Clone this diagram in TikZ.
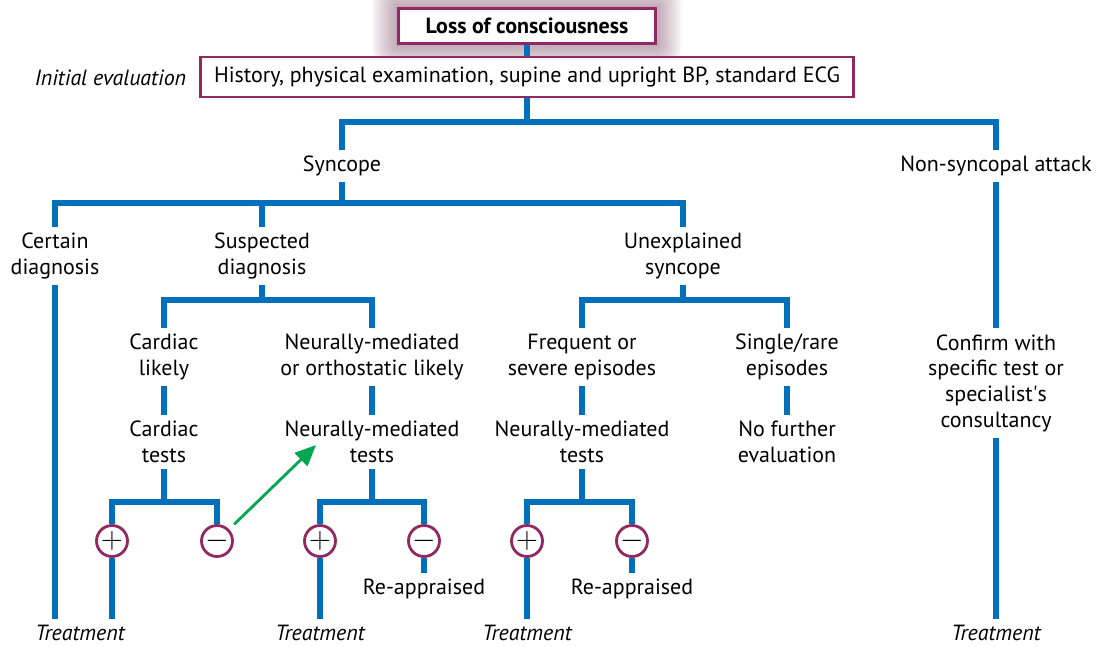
\documentclass[tikz,border=0pt]{standalone}
\usepackage{fontspec}
\setmainfont{PT Sans}
\usetikzlibrary{arrows.meta,backgrounds}

\definecolor{treeblue}{RGB}{0,112,186}
\definecolor{boxpurple}{RGB}{146,40,98}
\definecolor{arrowgreen}{RGB}{0,166,80}
\definecolor{glow}{RGB}{120,70,95}

\tikzset{
  txt/.style={align=center,inner xsep=2pt,inner ysep=0.12cm,
    font=\fontsize{12.5}{14.6}\selectfont},
  box/.style={draw=boxpurple,line width=1.6pt,fill=white,inner xsep=5pt,
    font=\fontsize{12.5}{14.6}\selectfont},
  branch/.style={draw=treeblue,line width=3.3pt},
  sign/.style={circle,draw=boxpurple,line width=1.6pt,fill=white,
    minimum size=0.62cm,inner sep=0pt,font=\fontsize{17}{18}\selectfont},
  result/.style={txt,font=\fontsize{12.5}{14.6}\itshape},
  hint/.style={draw=arrowgreen,line width=1.6pt,
    -{Triangle[length=0.42cm,width=0.36cm]}}
}

\begin{document}
\begin{tikzpicture}[x=0.02cm,y=-0.02cm]
	\useasboundingbox (0,0) rectangle (1098,646);

	\node[box,font=\fontsize{12.5}{14.6}\bfseries,minimum width=5.14cm,minimum height=0.7cm] (loc) at (527,26) {Loss of consciousness};
	\node[box,minimum width=13.06cm,minimum height=0.8cm] (init) at (527,77)
	  {History, physical examination, supine and upright BP, standard ECG};
	\node[result,anchor=east] (initlab) at (190,78) {Initial evaluation};

	% soft halo behind the title box
	\begin{pgfonlayer}{background}
	\foreach \g in {1,...,13}
	  \fill[glow,opacity=0.045,rounded corners=\g pt]
	    ([xshift=-\g*1.1pt,yshift=\g*1.1pt]loc.north west) rectangle
	    ([xshift=\g*1.1pt,yshift=-\g*1.1pt]loc.south east);
	\end{pgfonlayer}

	\node[txt] (syn) at (342,166) {Syncope};
	\node[txt] (nonsyn) at (996,166) {Non-syncopal attack};

	\node[txt] (cert) at (55,256) {Certain\\diagnosis};
	\node[txt] (susp) at (262,256) {Suspected\\diagnosis};
	\node[txt] (unexp) at (683,256) {Unexplained\\syncope};

	\node[txt] (cardL) at (164,357) {Cardiac\\likely};
	\node[txt] (neurL) at (372,357) {Neurally-mediated\\or orthostatic likely};
	\node[txt] (freq) at (582,357) {Frequent or\\severe episodes};
	\node[txt] (single) at (787,357) {Single/rare\\episodes};
	\node[txt] (confirm) at (996,383) {Confirm with\\specific test or\\specialist\textquotesingle s\\consultancy};

	\node[txt] (cardT) at (164,442) {Cardiac\\tests};
	\node[txt] (neurT) at (372,442) {Neurally-mediated\\tests};
	\node[txt] (neurT2) at (582,442) {Neurally-mediated\\tests};
	\node[txt] (nofurther) at (787,442) {No further\\evaluation};

	\node[sign] (p1) at (112,541) {$+$};
	\node[sign] (m1) at (217,541) {$-$};
	\node[sign] (p2) at (320,541) {$+$};
	\node[sign] (m2) at (424,541) {$-$};
	\node[sign] (p3) at (527,541) {$+$};
	\node[sign] (m3) at (632,541) {$-$};

	\node[txt] (reap1) at (424,589) {Re-appraised};
	\node[txt] (reap2) at (632,589) {Re-appraised};

	\node[result] (treat1) at (80,633) {Treatment};
	\node[result] (treat2) at (320,633) {Treatment};
	\node[result] (treat3) at (527,633) {Treatment};
	\node[result] (treat4) at (996,633) {Treatment};

	% junctions of the tree
	\coordinate (b1) at (527,122);
	\coordinate (b2) at (342,203);
	\coordinate (b3) at (262,300);
	\coordinate (b4) at (683,300);
	\coordinate (b5) at (164,502);
	\coordinate (b6) at (372,502);
	\coordinate (b7) at (582,502);
	\coordinate (tip) at (316,445);

	\path[branch] (loc) -- (init);
	\path[branch] (init) -- (b1) -| (syn);
	\path[branch] (b1) -| (nonsyn);
	\path[branch] (syn) -- (b2) -| (cert);
	\path[branch] (b2) -| (susp);
	\path[branch] (b2) -| (unexp);
	\path[branch] (susp) -- (b3) -| (cardL);
	\path[branch] (b3) -| (neurL);
	\path[branch] (unexp) -- (b4) -| (freq);
	\path[branch] (b4) -| (single);

	\path[branch] (cardL) -- (cardT);
	\path[branch] (neurL) -- (neurT);
	\path[branch] (freq) -- (neurT2);
	\path[branch] (single) -- (nofurther);
	\path[branch] (nonsyn) -- (confirm);

	\path[branch] (cardT) -- (b5) -| (p1);
	\path[branch] (b5) -| (m1);
	\path[branch] (neurT) -- (b6) -| (p2);
	\path[branch] (b6) -| (m2);
	\path[branch] (neurT2) -- (b7) -| (p3);
	\path[branch] (b7) -| (m3);

	\path[branch] (cert) -- (cert |- treat1.north);
	\path[branch] (p1) -- (p1 |- treat1.north);
	\path[branch] (p2) -- (treat2);
	\path[branch] (p3) -- (treat3);
	\path[branch] (confirm) -- (treat4);
	\path[branch] (m2) -- (reap1);
	\path[branch] (m3) -- (reap2);

	\draw[hint,shorten <=4pt] (m1) -- (tip);
\end{tikzpicture}
\end{document}
